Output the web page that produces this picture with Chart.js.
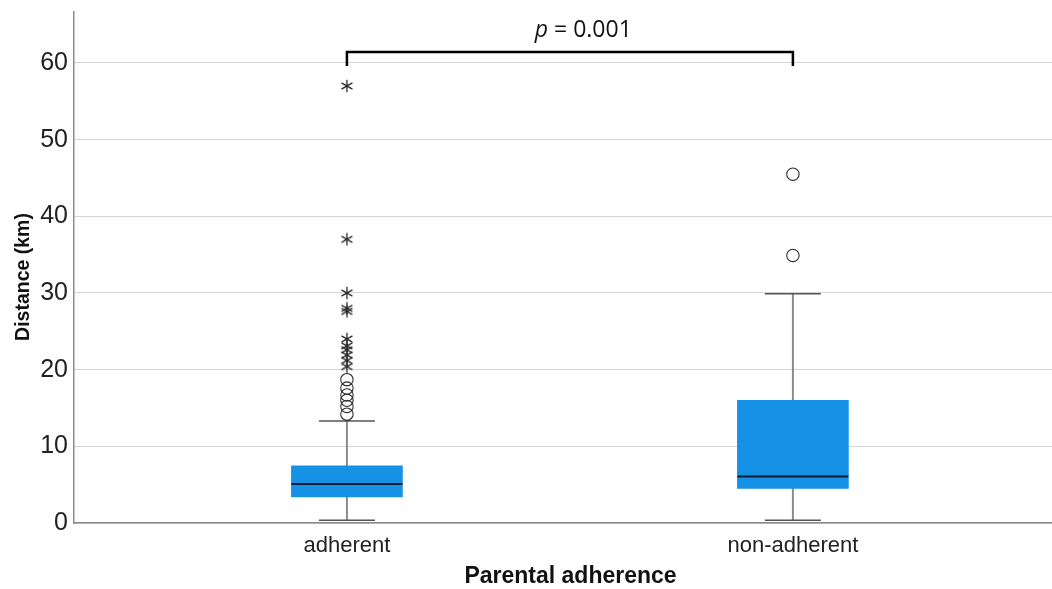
<!DOCTYPE html>
<html>
<head>
<meta charset="utf-8">
<script src="https://cdn.jsdelivr.net/npm/chart.js@4/dist/chart.umd.min.js"></script>
<style>
  html, body { margin: 0; padding: 0; background: #ffffff; }
  #wrap { width: 1052px; height: 589px; position: relative; }
</style>
</head>
<body>
<div id="wrap"><canvas id="c" width="1052" height="589"></canvas></div>
<script>
// ---- data ----
const categories = ['adherent', 'non-adherent'];
const categoryPositions = [1, 2];
const whiskerLow = [0.35, 0.35];
const q1 = [3.4, 4.5];
const median = [5.1, 6.05];
const q3 = [7.45, 16.0];
const whiskerHigh = [13.3, 29.9];
const mildOutliers = [
  [14.2, 15.2, 16.0, 16.7, 17.6, 18.7],
  [34.9, 45.5]
];
const extremeOutliers = [
  [20.4, 21.2, 21.9, 22.6, 23.1, 24.0, 27.6, 28.0, 30.0, 37.0, 57.0],
  []
];
const yTickValues = [0, 10, 20, 30, 40, 50, 60];
const yRange = [0, 66.65];
const xRange = [0.388, 2.581];
const bracketTop = 61.43;
const bracketEnd = 59.6;
const pLabelParts = ['p', ' = 0.001'];
const pLabelPos = { x: 1.53, y: 64.3 };
const xTitle = 'Parental adherence';
const yTitle = 'Distance (km)';

// ---- helpers ----
function makeStar(size, color) {
  const c = document.createElement('canvas');
  c.width = size; c.height = size;
  const g = c.getContext('2d');
  g.strokeStyle = color;
  g.lineWidth = 1.3;
  const r = size / 2 - 0.7, m = size / 2;
  g.beginPath();
  for (let k = 0; k < 3; k++) {
    const a = Math.PI / 2 + k * Math.PI / 3;
    g.moveTo(m + r * Math.cos(a), m + r * Math.sin(a));
    g.lineTo(m - r * Math.cos(a), m - r * Math.sin(a));
  }
  g.stroke();
  return c;
}
const starImg = makeStar(14, '#2a2a2a');

const pts = (arr) => categoryPositions.map((x, i) => ({ x, y: arr[i] }));
const ranges = (lo, hi) => categoryPositions.map((x, i) => ({ x, y: [lo[i], hi[i]] }));
const outPts = (groups) => groups.flatMap((g, i) => g.map(v => ({ x: categoryPositions[i], y: v })));

const bracketData = [
  { x: categoryPositions[0], y: bracketEnd },
  { x: categoryPositions[0], y: bracketTop },
  { x: categoryPositions[1], y: bracketTop },
  { x: categoryPositions[1], y: bracketEnd }
];

const textPlugin = {
  id: 'texts',
  afterDatasetsDraw(chart) {
    const { ctx, scales } = chart;
    const cx = scales.x.getPixelForValue(pLabelPos.x);
    const cy = scales.y.getPixelForValue(pLabelPos.y);
    ctx.save();
    ctx.fillStyle = '#111111';
    ctx.textBaseline = 'middle';
    const f1 = 'italic 23px "Open Sans"';
    const f2 = '23px "Open Sans"';
    ctx.font = f1; const w1 = ctx.measureText(pLabelParts[0]).width;
    ctx.font = f2; const w2 = ctx.measureText(pLabelParts[1]).width;
    let x = cx - (w1 + w2) / 2;
    ctx.font = f1; ctx.textAlign = 'left'; ctx.fillText(pLabelParts[0], x, cy);
    ctx.font = f2; ctx.fillText(pLabelParts[1], x + w1, cy);
    ctx.restore();
  },
  afterDraw(chart) {
    const { ctx } = chart;
    ctx.save();
    ctx.fillStyle = '#111111';
    ctx.textAlign = 'center';
    ctx.textBaseline = 'middle';
    ctx.font = 'bold 23px "Liberation Sans", Arial, sans-serif';
    ctx.fillText(xTitle, 570.5, 577);
    ctx.translate(24, 277);
    ctx.rotate(-Math.PI / 2);
    ctx.font = 'bold 19.5px "Liberation Sans", Arial, sans-serif';
    ctx.fillText(yTitle, 0, 0);
    ctx.restore();
  }
};

new Chart(document.getElementById('c'), {
  type: 'bar',
  data: {
    datasets: [
      {
        type: 'line', label: 'bracket', data: bracketData,
        borderColor: '#000000', borderWidth: 2.5, pointRadius: 0, tension: 0,
        fill: false, order: 0, clip: false
      },
      {
        type: 'scatter', label: 'extreme', data: outPts(extremeOutliers),
        pointStyle: starImg, pointRadius: 7, order: 1
      },
      {
        type: 'scatter', label: 'mild', data: outPts(mildOutliers),
        pointStyle: 'circle', pointRadius: 6.2, borderColor: '#2e2e2e',
        backgroundColor: 'rgba(255,255,255,0)', borderWidth: 1.1, order: 1
      },
      {
        type: 'scatter', label: 'median', data: pts(median),
        pointStyle: 'line', pointRadius: 55.5, borderColor: '#0b1a33',
        borderWidth: 2, order: 2
      },
      {
        type: 'scatter', label: 'capLow', data: pts(whiskerLow),
        pointStyle: 'line', pointRadius: 28, borderColor: '#555555',
        borderWidth: 1.4, order: 3
      },
      {
        type: 'scatter', label: 'capHigh', data: pts(whiskerHigh),
        pointStyle: 'line', pointRadius: 28, borderColor: '#555555',
        borderWidth: 1.4, order: 3
      },
      {
        label: 'box', data: ranges(q1, q3),
        backgroundColor: '#1591e6', borderWidth: 0, barThickness: 111,
        grouped: false, order: 4
      },
      {
        label: 'whisker', data: ranges(whiskerLow, whiskerHigh),
        backgroundColor: '#8a8a8a', borderWidth: 0, barThickness: 1.3,
        grouped: false, order: 5
      }
    ]
  },
  options: {
    responsive: false,
    animation: false,
    events: [],
    layout: { autoPadding: false, padding: { left: 0, right: 0, top: 12, bottom: 0 } },
    plugins: { legend: { display: false }, tooltip: { enabled: false } },
    scales: {
      x: {
        type: 'linear', min: xRange[0], max: xRange[1], offset: false,
        grid: { display: false },
        border: { display: true, color: '#8c8c8c', width: 1.5 },
        afterBuildTicks(scale) { scale.ticks = categoryPositions.map(v => ({ value: v })); },
        afterFit(scale) { scale.height = 66; scale.paddingLeft = 0; scale.paddingRight = 0; },
        ticks: {
          autoSkip: false, maxRotation: 0, padding: 2, color: '#222222',
          font: { family: '"Liberation Sans", Arial, sans-serif', size: 22 },
          callback: (v) => categories[categoryPositions.indexOf(v)] ?? ''
        },
        title: { display: false }
      },
      y: {
        type: 'linear', min: yRange[0], max: yRange[1],
        grid: { color: '#d4d4d4', lineWidth: 1, drawTicks: false },
        border: { display: true, color: '#8c8c8c', width: 1.5 },
        afterBuildTicks(scale) { scale.ticks = yTickValues.map(v => ({ value: v })); },
        afterFit(scale) { scale.width = 74; scale.paddingTop = 0; scale.paddingBottom = 0; },
        ticks: {
          padding: 6, color: '#222222',
          font: { family: '"Liberation Sans", Arial, sans-serif', size: 25 }
        },
        title: { display: false }
      }
    }
  },
  plugins: [textPlugin]
});
</script>
</body>
</html>
